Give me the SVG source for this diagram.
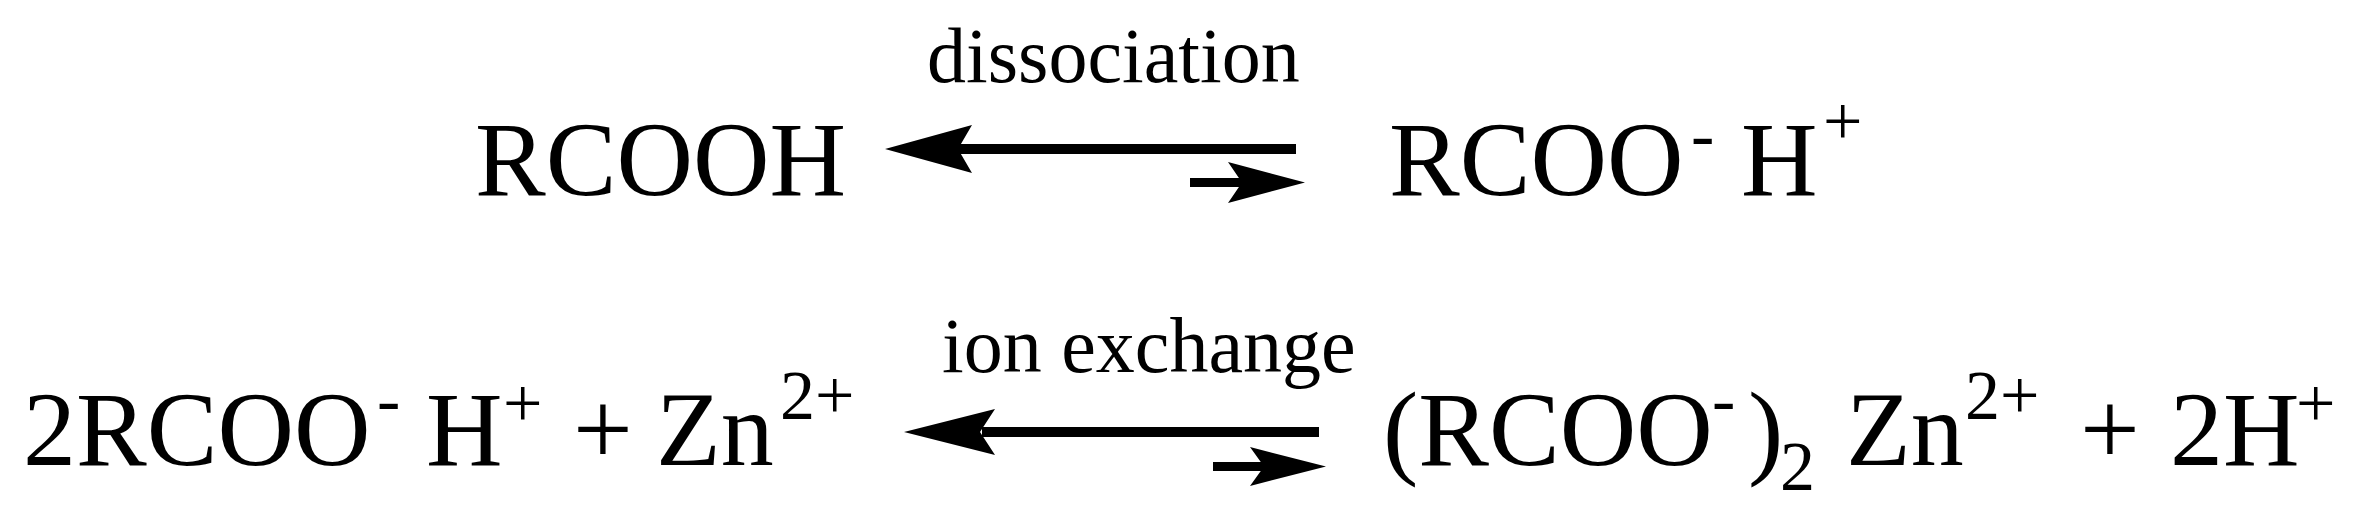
<svg xmlns="http://www.w3.org/2000/svg" width="2363" height="509" viewBox="0 0 2363 509">
<style>
text{font-family:"Liberation Serif","Times New Roman",serif;fill:#000}
.m{font-size:106px}.s{font-size:70px}.l{font-size:78px}
.a{fill:#000}
</style>
<rect width="2363" height="509" fill="#fff"/>
<g id="row1-left"><text class="m" x="475" y="195">RCOOH</text></g>
<g id="label1"><text class="l" x="927" y="82">dissociation</text></g>
<g id="row1-right">
<text class="m" x="1389" y="195">RCOO</text><text class="s" x="1691" y="158">-</text>
<text class="m" x="1741" y="195">H</text><text class="s" x="1823" y="145">+</text>
</g>
<g id="row2-left">
<text class="m" x="23" y="465">2RCOO</text><text class="s" x="377" y="423">-</text>
<text class="m" x="426" y="465">H</text><text class="s" x="503" y="427">+</text>
<text class="m" x="573" y="465">+</text>
<text class="m" x="656" y="465">Zn</text><text class="s" x="780" y="419">2+</text>
</g>
<g id="label2"><text class="l" x="942" y="372">ion exchange</text></g>
<g id="row2-right">
<text class="m" x="1383" y="465">(RCOO</text><text class="s" x="1712" y="423">-</text>
<text class="m" x="1748" y="465">)</text><text class="s" x="1780" y="490">2</text>
<text class="m" x="1846" y="465">Zn</text><text class="s" x="1965" y="419">2+</text>
<text class="m" x="2080" y="465">+</text>
<text class="m" x="2170" y="465">2H</text><text class="s" x="2296" y="427">+</text>
</g>
<g id="connectors">
<rect class="a" x="955" y="144" width="341" height="10"/>
<polygon class="a" points="885,149 972,125 958,149 972,173"/>
<rect class="a" x="1190" y="178" width="52" height="9"/>
<polygon class="a" points="1305,182.5 1228,162 1242,182.5 1228,203"/>
<rect class="a" x="982" y="427" width="337" height="10"/>
<polygon class="a" points="904,432 995,409 980,432 995,455"/>
<rect class="a" x="1213" y="462" width="52" height="9"/>
<polygon class="a" points="1326,466.5 1250,447 1264,466.5 1250,486"/>
</g>
</svg>
